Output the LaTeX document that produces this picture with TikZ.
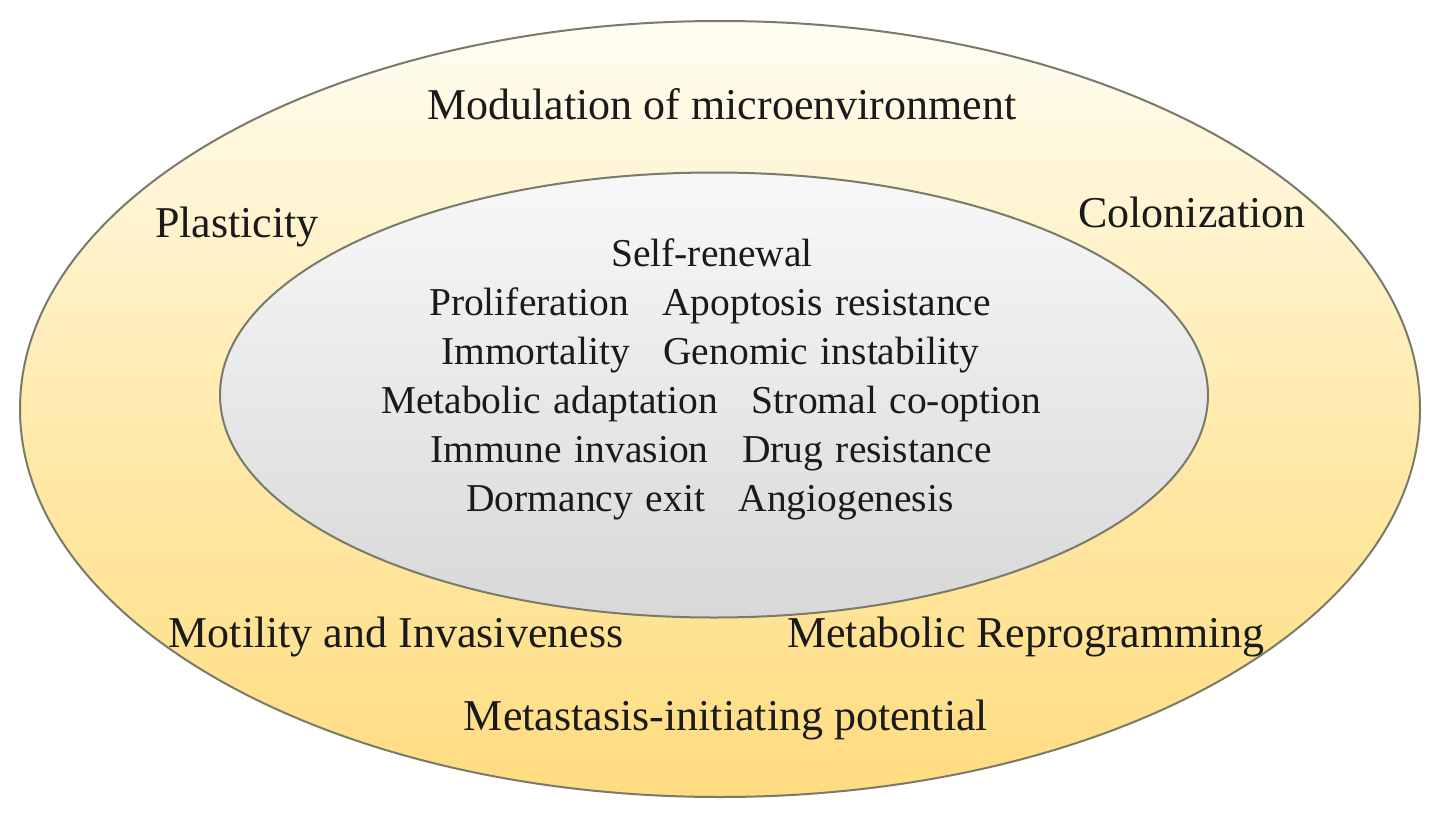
\documentclass[tikz,border=0pt]{standalone}
\usepackage{fontspec}
\setmainfont{Liberation Serif}
\usetikzlibrary{shapes.geometric}
\definecolor{outtop}{HTML}{FFFDF3}
\definecolor{outmid}{HTML}{FFEBAE}
\definecolor{outbot}{HTML}{FFDC80}
\definecolor{intop}{HTML}{F8F8F8}
\definecolor{inmid}{HTML}{E8E8E8}
\definecolor{inbot}{HTML}{D8D8D8}
\definecolor{edge}{HTML}{7A7A6A}
\definecolor{ink}{HTML}{1A1A1A}
\newcommand{\innerfont}{\fontsize{39.5}{44}\selectfont\spaceskip=0.32em plus 0.1em\relax}
\tikzset{
  ring/.style={ellipse, draw=edge, line width=2pt, inner sep=0pt},
  outlabel/.style={anchor=base, text=ink, inner sep=0pt, font=\fontsize{44}{50}\selectfont},
  inlabel/.style={anchor=base, text=ink, inner sep=0pt, font=\innerfont},
}
\newcommand{\gapp}{\hspace{0.85em}}
\begin{document}
\begin{tikzpicture}[x=1pt, y=-1pt]
\useasboundingbox (0,0) rectangle (1441,819);
\node[ring, minimum width=1400pt, minimum height=776pt, top color=outtop, bottom color=outbot, middle color=outmid] (outer) at (720,409) {};
\node[ring, minimum width=988pt, minimum height=445pt, top color=intop, bottom color=inbot, middle color=inmid] (inner) at (714,395) {};
\node[outlabel] (mod) at (722,119) {Modulation of microenvironment};
\node[outlabel] (pla) at (237,237) {Plasticity};
\node[outlabel] (col) at (1192,227) {Colonization};
\node[outlabel] (mot) at (396,647) {Motility and Invasiveness};
\node[outlabel] (mer) at (1026,647) {Metabolic Reprogramming};
\node[outlabel] (met) at (726,730) {Metastasis-initiating potential};
\node[inlabel] (l1) at (712,266) {Self-renewal};
\node[inlabel] (l2) at (710,315) {Proliferation\gapp Apoptosis resistance};
\node[inlabel] (l3) at (710,364) {Immortality\gapp Genomic instability};
\node[inlabel] (l4) at (711,413) {Metabolic adaptation\gapp Stromal co-option};
\node[inlabel] (l5) at (711,462) {Immune invasion\gapp Drug resistance};
\node[inlabel] (l6) at (710,511) {Dormancy exit\gapp Angiogenesis};
\end{tikzpicture}
\end{document}
